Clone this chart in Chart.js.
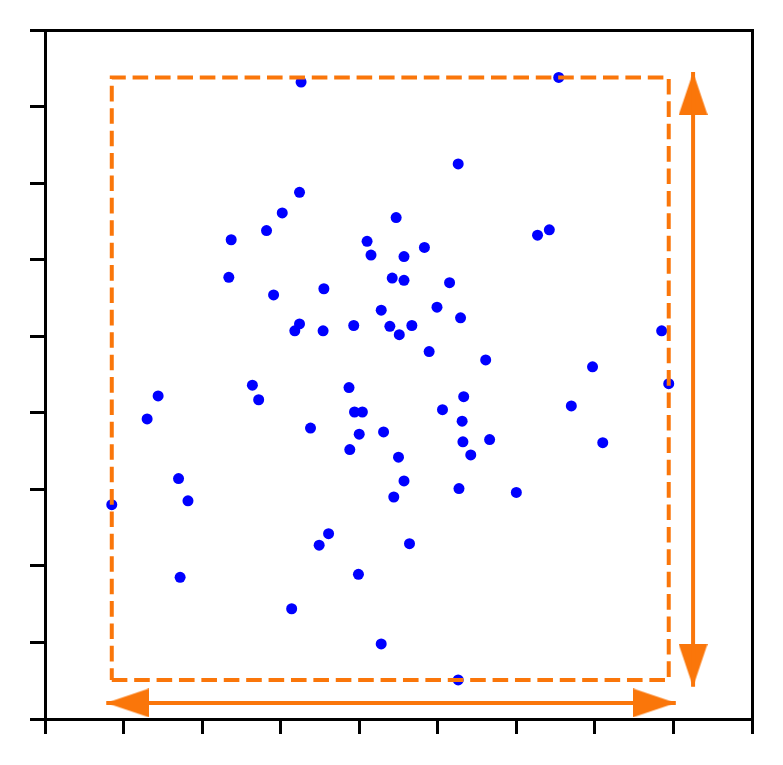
<!DOCTYPE html>
<html lang="en">
<head>
  <meta charset="UTF-8">
  <title>Scatter with bounding box</title>
  <script src="https://cdn.jsdelivr.net/npm/chart.js"></script>
  <style>
    html, body {
      margin: 0;
      padding: 0;
      background: #fff;
    }
    #chart {
      display: block;
    }
  </style>
</head>
<body>
  <canvas id="chart" width="783" height="765"></canvas>

  <script>
    // Point positions (axis units = one tick step)
    const xs = [
      3.26, 6.54, 5.26, 3.24, 3.02, 2.82, 2.37, 4.47, 4.10, 4.15,
      4.57, 4.83, 6.27, 6.42, 2.34, 2.91, 3.55, 4.42, 4.57, 5.15,
      4.28, 4.99, 5.29, 3.24, 3.18, 3.54, 3.93, 4.39, 4.67, 4.51,
      4.89, 5.61, 7.85, 6.97, 7.94, 2.64, 2.72, 1.44, 1.30, 3.87,
      3.94, 4.04, 3.38, 4.00, 4.31, 5.06, 5.33, 5.31, 6.70, 5.32,
      5.66, 7.10, 5.42, 3.88, 4.50, 1.70, 1.82, 0.85, 4.57, 5.27,
      4.44, 6.00, 3.61, 3.49, 4.64, 1.72, 3.99, 3.14, 4.28, 5.26
    ];
    const ys = [
      8.32, 8.38, 7.25, 6.88, 6.61, 6.38, 6.26, 6.55, 6.24, 6.06,
      6.04, 6.16, 6.32, 6.39, 5.77, 5.54, 5.62, 5.76, 5.73, 5.70,
      5.34, 5.38, 5.24, 5.16, 5.07, 5.07, 5.14, 5.13, 5.14, 5.02,
      4.80, 4.69, 5.07, 4.60, 4.38, 4.36, 4.17, 4.22, 3.92, 4.33,
      4.01, 4.01, 3.80, 3.72, 3.75, 4.04, 4.21, 3.89, 4.09, 3.62,
      3.65, 3.61, 3.45, 3.52, 3.42, 3.14, 2.85, 2.80, 3.11, 3.01,
      2.90, 2.96, 2.42, 2.27, 2.29, 1.85, 1.89, 1.44, 0.98, 0.51
    ];

    // Axis range: 9 unlabelled tick steps each way
    const xRange = [0, 9];
    const yRange = [0, 9];

    // Double-headed arrows beside the box
    const hArrowX = [0.78, 8.03];
    const hArrowY = 0.21;
    const vArrowX = 8.25;
    const vArrowY = [8.45, 0.42];

    const orange = '#fa760a';

    // Bounding box of the points
    const minX = Math.min(...xs), maxX = Math.max(...xs);
    const minY = Math.min(...ys), maxY = Math.max(...ys);
    const boxPoints = [
      { x: minX, y: minY }, { x: maxX, y: minY },
      { x: maxX, y: maxY }, { x: minX, y: maxY }, { x: minX, y: minY }
    ];

    // Arrowhead image, apex at the centre, pointing up
    function makeHead() {
      const c = document.createElement('canvas');
      c.width = 29;
      c.height = 86;
      const g = c.getContext('2d');
      g.fillStyle = orange;
      g.beginPath();
      g.moveTo(14.5, 43);
      g.lineTo(29, 86);
      g.lineTo(0, 86);
      g.closePath();
      g.fill();
      return c;
    }
    const head = makeHead();

    const spine = { display: true, width: 3, color: '#000' };

    new Chart(document.getElementById('chart').getContext('2d'), {
      type: 'scatter',
      data: {
        datasets: [
          {
            // points
            data: xs.map((x, i) => ({ x: x, y: ys[i] })),
            backgroundColor: '#0000ff',
            pointRadius: 5.5,
            pointBorderWidth: 0,
            order: 2
          },
          {
            // dashed box
            data: boxPoints,
            showLine: true,
            borderColor: orange,
            borderWidth: 4,
            borderDash: [15.6, 6.8],
            borderJoinStyle: 'miter',
            pointRadius: 0,
            fill: false,
            order: 1
          },
          {
            data: [{ x: hArrowX[0], y: hArrowY }, { x: hArrowX[1], y: hArrowY }],
            showLine: true,
            borderColor: orange,
            borderWidth: 4,
            pointRadius: 0,
            order: 0
          },
          {
            data: [{ x: vArrowX, y: vArrowY[0] }, { x: vArrowX, y: vArrowY[1] }],
            showLine: true,
            borderColor: orange,
            borderWidth: 4,
            pointRadius: 0,
            order: 0
          },
          {
            // arrowheads
            data: [
              { x: hArrowX[0], y: hArrowY }, { x: hArrowX[1], y: hArrowY },
              { x: vArrowX, y: vArrowY[0] }, { x: vArrowX, y: vArrowY[1] }
            ],
            pointStyle: head,
            pointRotation: [-90, 90, 0, 180],
            pointRadius: 10,
            order: 0
          }
        ]
      },
      options: {
        responsive: false,
        animation: false,
        devicePixelRatio: 1,
        events: [],
        layout: { padding: { left: 30, top: 30, right: 31, bottom: 31 } },
        plugins: {
          legend: { display: false },
          tooltip: { enabled: false }
        },
        scales: {
          x: {
            type: 'linear',
            position: 'bottom',
            min: xRange[0],
            max: xRange[1],
            ticks: { display: false, stepSize: 1 },
            grid: { drawOnChartArea: false, drawTicks: true, tickLength: 15, lineWidth: 3, color: '#000' },
            border: spine,
            afterFit: s => { s.height = 15; }
          },
          y: {
            type: 'linear',
            position: 'left',
            min: yRange[0],
            max: yRange[1],
            ticks: { display: false, stepSize: 1 },
            grid: { drawOnChartArea: false, drawTicks: true, tickLength: 15, lineWidth: 3, color: '#000' },
            border: spine,
            afterFit: s => { s.width = 15; }
          },
          xTop: {
            type: 'linear',
            position: 'top',
            min: xRange[0],
            max: xRange[1],
            ticks: { display: false },
            grid: { display: false },
            border: spine,
            afterFit: s => { s.height = 0; }
          },
          yRight: {
            type: 'linear',
            position: 'right',
            min: yRange[0],
            max: yRange[1],
            ticks: { display: false },
            grid: { display: false },
            border: spine,
            afterFit: s => { s.width = 0; }
          }
        }
      }
    });
  </script>
</body>
</html>
